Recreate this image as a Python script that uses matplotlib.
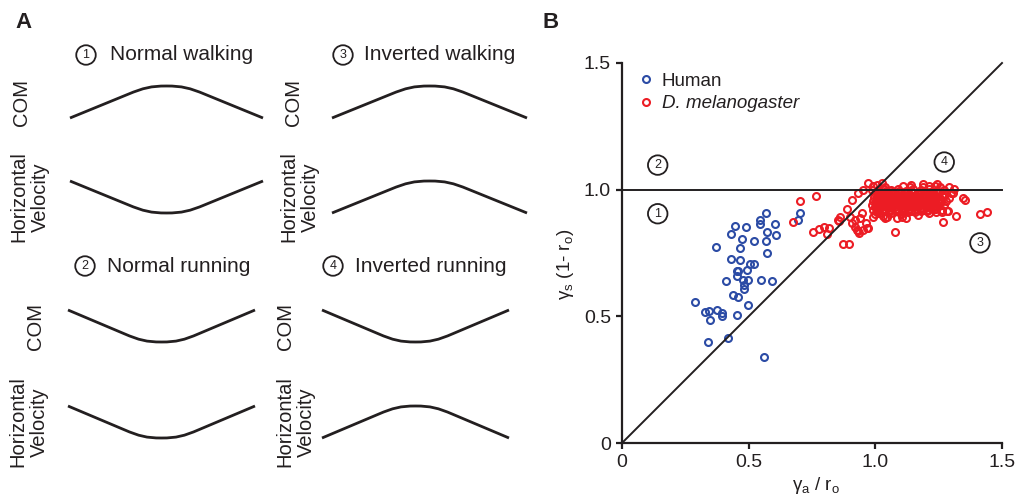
import numpy as np
import matplotlib
matplotlib.use('Agg')
from matplotlib import pyplot as plt
from matplotlib.path import Path
from matplotlib.patches import PathPatch

plt.rcParams['font.family'] = ['Liberation Sans', 'DejaVu Sans']
plt.rcParams['mathtext.fontset'] = 'custom'
plt.rcParams['mathtext.rm'] = 'Liberation Sans'
plt.rcParams['mathtext.it'] = 'Liberation Sans:italic'
plt.rcParams['mathtext.default'] = 'regular'

W, H = 1016, 497
INK = '#231f20'
BLUE = '#2b4ba5'
RED = '#ec1c24'

# schematic trace: straight flanks with a rounded top (normalised 0..1)
bump_verts = [(0, 0), (0.30, 0.74), (0.38, 0.94), (0.42, 1.0), (0.50, 1.0),
              (0.58, 1.0), (0.62, 0.94), (0.70, 0.74), (1, 0)]
bump_codes = [Path.MOVETO, Path.LINETO, Path.CURVE4, Path.CURVE4, Path.CURVE4,
              Path.CURVE4, Path.CURVE4, Path.CURVE4, Path.LINETO]

gait_titles = ['Normal walking', 'Inverted walking', 'Normal running', 'Inverted running']
gait_numbers = ['1', '3', '2', '4']
# +1 = hump, -1 = dip   (COM, horizontal velocity)
gait_shapes = [(1, -1), (1, 1), (-1, -1), (-1, 1)]

# panel B data
human_xy = np.array([
    [0.568, 0.908], [0.545, 0.880], [0.545, 0.863], [0.603, 0.863], [0.701, 0.908],
    [0.693, 0.880], [0.445, 0.857], [0.488, 0.854], [0.430, 0.825], [0.572, 0.832],
    [0.607, 0.822], [0.472, 0.804], [0.520, 0.799], [0.568, 0.797], [0.371, 0.774],
    [0.467, 0.770], [0.571, 0.750], [0.432, 0.726], [0.466, 0.722], [0.504, 0.705],
    [0.521, 0.707], [0.493, 0.684], [0.455, 0.680], [0.458, 0.678], [0.454, 0.658],
    [0.476, 0.643], [0.499, 0.643], [0.550, 0.643], [0.592, 0.641], [0.409, 0.640],
    [0.482, 0.623], [0.482, 0.607], [0.438, 0.584], [0.458, 0.575], [0.499, 0.544],
    [0.287, 0.555], [0.328, 0.518], [0.342, 0.521], [0.375, 0.526], [0.393, 0.514],
    [0.396, 0.502], [0.347, 0.486], [0.455, 0.504], [0.417, 0.415], [0.338, 0.397],
    [0.561, 0.338]])

fly_sparse_xy = np.array([
    [0.972, 1.028], [0.766, 0.975], [0.703, 0.954], [0.676, 0.872], [0.753, 0.832],
    [0.778, 0.843], [0.797, 0.854], [0.816, 0.850], [0.811, 0.825], [0.851, 0.880],
    [0.857, 0.878], [0.887, 0.924], [0.907, 0.959], [0.933, 0.986], [0.953, 1.000],
    [0.874, 0.784], [0.897, 0.786], [0.972, 0.850], [1.078, 0.832], [1.268, 0.871],
    [1.319, 0.897], [1.413, 0.903], [1.440, 0.911], [0.861, 0.894], [0.920, 0.880],
    [0.907, 0.870], [0.940, 0.887], [0.900, 0.894], [0.946, 0.907], [0.927, 0.841],
    [0.937, 0.828], [0.933, 0.838], [0.920, 0.854], [0.965, 0.868], [1.347, 0.966],
    [1.354, 0.959], [1.308, 0.986], [0.968, 0.847], [0.951, 0.841], [1.038, 0.887],
    [1.084, 0.889], [1.121, 0.889], [1.288, 0.917], [1.262, 0.913], [1.016, 0.907],
    [1.045, 0.894], [1.104, 0.894], [1.282, 0.917], [1.242, 1.021], [1.190, 1.012],
    [1.137, 1.012], [1.025, 1.025]])

fly_cluster_xy = np.array([
    [1.00, 0.905], [1.03, 0.898], [1.06, 0.908], [1.10, 0.902], [1.13, 0.910],
    [1.17, 0.900], [1.21, 0.907], [1.24, 0.912], [0.99, 0.893],
    [0.99, 0.921], [1.015, 0.928], [1.04, 0.918], [1.065, 0.926], [1.09, 0.920],
    [1.115, 0.929], [1.14, 0.917], [1.165, 0.925], [1.19, 0.919], [1.215, 0.927],
    [1.24, 0.922], [1.265, 0.918],
    [0.985, 0.940], [1.005, 0.936], [1.03, 0.944], [1.05, 0.938], [1.075, 0.942],
    [1.10, 0.935], [1.125, 0.945], [1.15, 0.939], [1.175, 0.943], [1.20, 0.936],
    [1.225, 0.941], [1.25, 0.946], [1.27, 0.938],
    [0.99, 0.955], [1.015, 0.951], [1.04, 0.958], [1.06, 0.952], [1.085, 0.960],
    [1.11, 0.953], [1.135, 0.957], [1.16, 0.950], [1.185, 0.959], [1.21, 0.954],
    [1.235, 0.960], [1.26, 0.951], [1.28, 0.957],
    [0.995, 0.970], [1.02, 0.966], [1.045, 0.974], [1.07, 0.968], [1.095, 0.972],
    [1.12, 0.965], [1.145, 0.975], [1.17, 0.967], [1.195, 0.973], [1.22, 0.966],
    [1.245, 0.971], [1.27, 0.975], [1.29, 0.968],
    [1.00, 0.985], [1.025, 0.981], [1.05, 0.989], [1.075, 0.983], [1.10, 0.987],
    [1.125, 0.980], [1.15, 0.988], [1.175, 0.982], [1.20, 0.990], [1.225, 0.984],
    [1.25, 0.986], [1.275, 0.981], [1.30, 0.985],
    [0.985, 1.000], [1.01, 0.996], [1.035, 1.004], [1.06, 0.998], [1.09, 1.002],
    [1.12, 0.995], [1.15, 1.003], [1.18, 0.997], [1.21, 1.001], [1.24, 0.995],
    [1.27, 1.000],
    [0.99, 1.015], [1.005, 1.020], [1.04, 1.012], [1.11, 1.013], [1.14, 1.018],
    [1.19, 1.021], [1.21, 1.014], [1.235, 1.016], [1.255, 1.012], [1.29, 1.009],
    [1.31, 1.004],
    [1.005, 0.912], [1.03, 0.915], [1.055, 0.913], [1.08, 0.916], [1.105, 0.912],
    [1.13, 0.918], [1.155, 0.911], [1.18, 0.914], [1.205, 0.916], [1.23, 0.931],
    [1.00, 0.930], [1.025, 0.933], [1.05, 0.929], [1.077, 0.931], [1.102, 0.934],
    [1.128, 0.930], [1.152, 0.932], [1.178, 0.929], [1.203, 0.933], [1.228, 0.930],
    [1.002, 0.947], [1.027, 0.948], [1.052, 0.945], [1.078, 0.949], [1.103, 0.947],
    [1.128, 0.950], [1.153, 0.946], [1.178, 0.948], [1.203, 0.945], [1.228, 0.949],
    [1.007, 0.962], [1.032, 0.963], [1.057, 0.961], [1.082, 0.964], [1.107, 0.962],
    [1.132, 0.963], [1.157, 0.961], [1.182, 0.964], [1.207, 0.962], [1.232, 0.963],
    [1.257, 0.964],
    [1.012, 0.977], [1.037, 0.978], [1.062, 0.976], [1.087, 0.979], [1.112, 0.977],
    [1.137, 0.978], [1.162, 0.976], [1.187, 0.979], [1.212, 0.977], [1.237, 0.978],
    [1.262, 0.977],
    [1.017, 0.992], [1.042, 0.993], [1.067, 0.991], [1.092, 0.994], [1.117, 0.991],
    [1.142, 0.993], [1.167, 0.992], [1.192, 0.994], [1.217, 0.991], [1.242, 0.993],
    [1.013, 0.940], [1.038, 0.937], [1.063, 0.941], [1.088, 0.938], [1.113, 0.942],
    [1.138, 0.936], [1.163, 0.941], [1.188, 0.938], [1.213, 0.942], [1.238, 0.937],
    [1.022, 0.956], [1.047, 0.953], [1.072, 0.957], [1.097, 0.955], [1.122, 0.958],
    [1.147, 0.954], [1.172, 0.956], [1.197, 0.953], [1.222, 0.957], [1.247, 0.955],
    [1.018, 0.971], [1.043, 0.969], [1.068, 0.972], [1.093, 0.969], [1.118, 0.971],
    [1.143, 0.968], [1.168, 0.972], [1.193, 0.969], [1.218, 0.972], [1.243, 0.969],
    [1.008, 0.921], [1.033, 0.924], [1.058, 0.921], [1.083, 0.925], [1.108, 0.922],
    [1.133, 0.924], [1.158, 0.921], [1.183, 0.924], [1.208, 0.921], [1.233, 0.924]])

fly_xy = np.vstack([fly_sparse_xy, fly_cluster_xy])

ticks = [0, 0.5, 1.0, 1.5]
tick_labels = ['0', '0.5', '1.0', '1.5']

fig = plt.figure(figsize=(W / 100, H / 100), dpi=100)


def ftext(x, y, s, **kw):
    return fig.text(x / W, 1 - y / H, s, **kw)


def circled(x, y, s):
    ftext(x, y, s, ha='center', va='center', fontsize=9, color=INK,
          bbox=dict(boxstyle='circle,pad=0.3', fc='white', ec=INK, lw=1.3))


def trace(x0, x1, ytop, ybot, shape):
    ax = fig.add_axes([x0 / W, 1 - ybot / H, (x1 - x0) / W, (ybot - ytop) / H])
    ax.set_xlim(0, 1)
    if shape > 0:
        ax.set_ylim(0, 1)
    else:
        ax.set_ylim(1, 0)
    ax.axis('off')
    ax.add_patch(PathPatch(Path(bump_verts, bump_codes), fill=False, lw=2.0,
                           ec=INK, capstyle='butt', clip_on=False))


# ---- panel A ----
ftext(15, 22, 'A', fontsize=16, fontweight='bold', va='center', color=INK)
blocks = [
    # circle x, title y, text x, curve x0, x1, com y, vel y, com label x, vel label x
    (86, 55, 110, 70, 263, 86, 181, 22, 30),
    (343, 55, 364, 332, 527, 86, 181, 293, 300),
    (85, 266, 107, 68, 255, 310, 406, 36, 29),
    (333, 266, 355, 322, 509, 310, 406, 285, 296),
]
for i, (cx, ty, tx, x0, x1, com_y, vel_y, com_lx, vel_lx) in enumerate(blocks):
    circled(cx, ty, gait_numbers[i])
    ftext(tx, ty, gait_titles[i], fontsize=15, va='center', color=INK)
    trace(x0, x1, com_y, com_y + 32, gait_shapes[i][0])
    trace(x0, x1, vel_y, vel_y + 32, gait_shapes[i][1])
    ftext(com_lx, com_y + 17, 'COM', fontsize=14.5, rotation=90,
          ha='center', va='center', color=INK)
    ftext(vel_lx, vel_y + 16, 'Horizontal\nVelocity', fontsize=14.5, rotation=90,
          ha='center', va='center', linespacing=1.15, color=INK)

# ---- panel B ----
ftext(543, 22, 'B', fontsize=16, fontweight='bold', va='center', color=INK)
ax = fig.add_axes([622 / W, 54 / H, 380 / W, 380 / H])
ax.set_xlim(0, 1.5)
ax.set_ylim(0, 1.5)
ax.plot([0, 1.5], [1, 1], color=INK, lw=1.4, zorder=4, clip_on=False)
ax.plot([0, 1.5], [0, 1.5], color=INK, lw=1.4, zorder=4, clip_on=False)
ax.plot(human_xy[:, 0], human_xy[:, 1], 'o', mfc='none', mec=BLUE, ms=5.0,
        mew=1.5, label='Human', zorder=2)
ax.plot(fly_xy[:, 0], fly_xy[:, 1], 'o', mfc='none', mec=RED, ms=5.0,
        mew=1.5, label='D. melanogaster', zorder=2)

for side in ['top', 'right']:
    ax.spines[side].set_visible(False)
for side in ['left', 'bottom']:
    ax.spines[side].set_linewidth(1.6)
    ax.spines[side].set_color(INK)
ax.set_xticks(ticks)
ax.set_xticklabels(tick_labels)
ax.set_yticks(ticks)
ax.set_yticklabels(tick_labels)
ax.tick_params(direction='out', length=4, width=1.6, labelsize=14, pad=4,
               colors=INK)

ax.set_xlabel(r'$\gamma_a$ / r$_o$', fontsize=13.5, color=INK)
ax.xaxis.set_label_coords(0.51, -0.085)
ax.set_ylabel(r'$\gamma_s$ (1- r$_o$)', fontsize=13.5, color=INK)
ax.yaxis.set_label_coords(-0.12, 0.47)

for s, (x, y) in zip(['2', '1', '4', '3'],
                     [(0.141, 1.097), (0.141, 0.905), (1.272, 1.109), (1.413, 0.79)]):
    ax.text(x, y, s, ha='center', va='center', fontsize=9, color=INK, zorder=5,
            bbox=dict(boxstyle='circle,pad=0.3', fc='white', ec=INK, lw=1.3))

leg = ax.legend(loc='upper left', bbox_to_anchor=(0.045, 0.975), frameon=False,
                fontsize=13.5, handlelength=0.7, handletextpad=0.5, borderaxespad=0,
                borderpad=0, labelspacing=0.3, numpoints=1)
leg.get_texts()[1].set_style('italic')
for t in leg.get_texts():
    t.set_color(INK)

fig.savefig('out.png', dpi=100)
